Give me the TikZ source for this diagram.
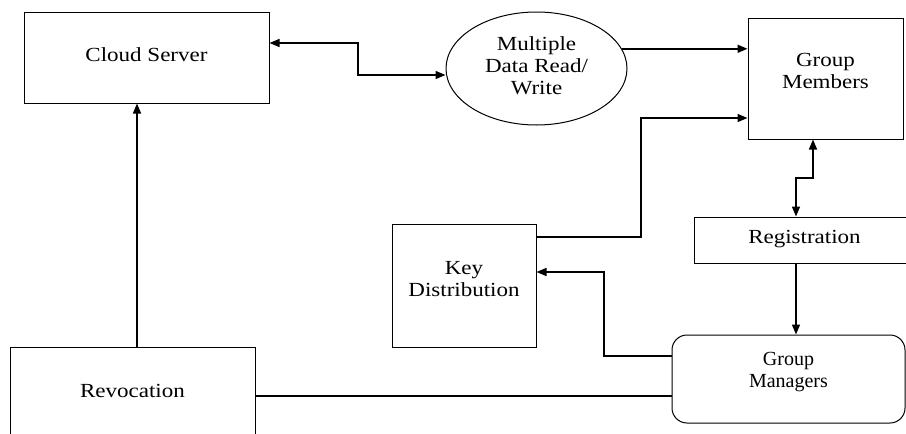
\documentclass[tikz,border=0pt]{standalone}
\usepackage{fontspec}
\setmainfont{Liberation Serif}
\newfontfamily\widefont{Liberation Serif}[FakeStretch=1.15]
\usetikzlibrary{arrows.meta,shapes.geometric}

% label lifted inside its box without changing the box's size
\newcommand\lift[2]{\raisebox{#1}[\height][\depth]{\begin{tabular}{@{}c@{}}#2\end{tabular}}}

\begin{document}
\begin{tikzpicture}[x=1pt,y=-1pt,
  box/.style={draw,line width=1pt,inner sep=0pt,align=center,
    font=\widefont\fontsize{20}{22}\selectfont},
  link/.style={line width=1.5pt},
  tip/.style={link,-{Triangle[length=10pt,width=8pt]}},
  twotip/.style={link,{Triangle[length=10pt,width=8pt]}-{Triangle[length=10pt,width=8pt]}}
]
\useasboundingbox (0,0) rectangle (906,434);
\clip (0,0) rectangle (906,434);

% boxes
\node[box,minimum width=245pt,minimum height=91pt] (cs) at (146.5,57.5)
  {\lift{0pt}{Cloud Server}};
\node[box,ellipse,minimum width=181pt,minimum height=113pt] (ell) at (536.5,68.5)
  {\lift{0pt}{Multiple\\Data Read/\\Write}};
\node[box,minimum width=155pt,minimum height=121pt] (gm) at (825.5,78.5)
  {\lift{5.5pt}{Group\\Members}};
\node[box,minimum width=221pt,minimum height=46pt] (reg) at (804.5,240)
  {\lift{1pt}{Registration}};
\node[box,minimum width=144pt,minimum height=123pt] (kd) at (464,285.5)
  {\lift{4pt}{Key\\Distribution}};
\node[box,minimum width=245pt,minimum height=98pt] (rev) at (132.5,396)
  {\lift{3pt}{Revocation}};
\node[box,rounded corners=15pt,minimum width=233pt,minimum height=88pt,
  font=\rmfamily\fontsize{20}{22}\selectfont] (mgr) at (788.5,379)
  {\lift{7pt}{Group\\Managers}};

% connectors
\draw[twotip] (cs.east |- 0,43) -- (358,43) |- (ell.west |- 0,75);
\draw[tip] (ell.13) -- (ell.13 -| gm.west);
\draw[tip] (kd.east |- 0,237) -| (641,118) -- (gm.west |- 0,118);
\draw[twotip] (gm.south -| 813,0) -- (813,178) -| (reg.north -| 796,0);
\draw[tip] (reg.south -| 796,0) -- (mgr.north -| 796,0);
\draw[tip] (mgr.west |- 0,356) -| (604,272) -- (kd.east |- 0,272);
\draw[tip] (rev.north -| 137,0) -- (cs.south -| 137,0);
\draw[link] (rev.east |- 0,396) -- (mgr.west |- 0,396);
\end{tikzpicture}
\end{document}
